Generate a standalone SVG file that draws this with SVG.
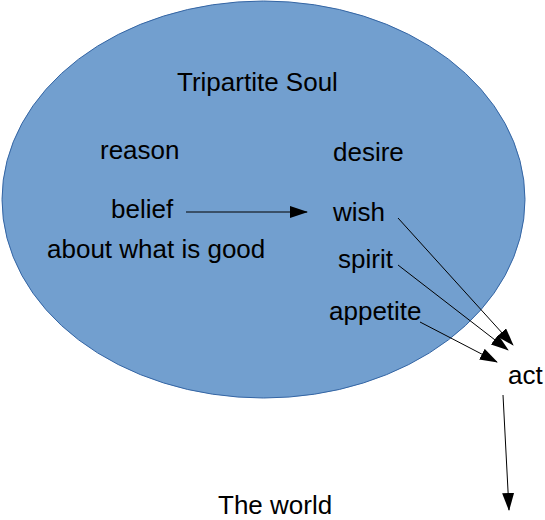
<svg xmlns="http://www.w3.org/2000/svg" width="545" height="520" viewBox="0 0 545 520">
<style>
text{font-family:"Liberation Sans",Arial,sans-serif;font-size:26px;fill:#000}
.c{stroke:#000;stroke-width:1;fill:none;marker-end:url(#ah)}
</style>
<defs>
<marker id="ah" markerUnits="userSpaceOnUse" markerWidth="18" markerHeight="12" refX="17" refY="6" orient="auto">
<path d="M0,0 L18,6 L0,12 Z" fill="#000"/>
</marker>
</defs>
<g id="soul">
<ellipse cx="263.5" cy="199.5" rx="261.5" ry="198.5" fill="#729fcf" stroke="#3465a4" stroke-width="1"/>
<text x="177" y="91">Tripartite Soul</text>
</g>
<g id="reason"><text x="100" y="159">reason</text></g>
<g id="desire"><text x="333" y="161">desire</text></g>
<g id="belief"><text x="111" y="218">belief</text></g>
<g id="good"><text x="47" y="258">about what is good</text></g>
<g id="wish"><text x="333" y="221">wish</text></g>
<g id="spirit"><text x="338" y="268">spirit</text></g>
<g id="appetite"><text x="329" y="320">appetite</text></g>
<g id="act"><text x="508" y="384">act</text></g>
<g id="world"><text x="218" y="514">The world</text></g>
<g id="connectors">
<line class="c" x1="186" y1="212" x2="307" y2="212"/>
<line class="c" x1="398" y1="218" x2="513" y2="345"/>
<line class="c" x1="398" y1="265" x2="508" y2="350"/>
<line class="c" x1="420" y1="322" x2="497" y2="362"/>
<line class="c" x1="503" y1="395" x2="509" y2="510"/>
</g>
</svg>
